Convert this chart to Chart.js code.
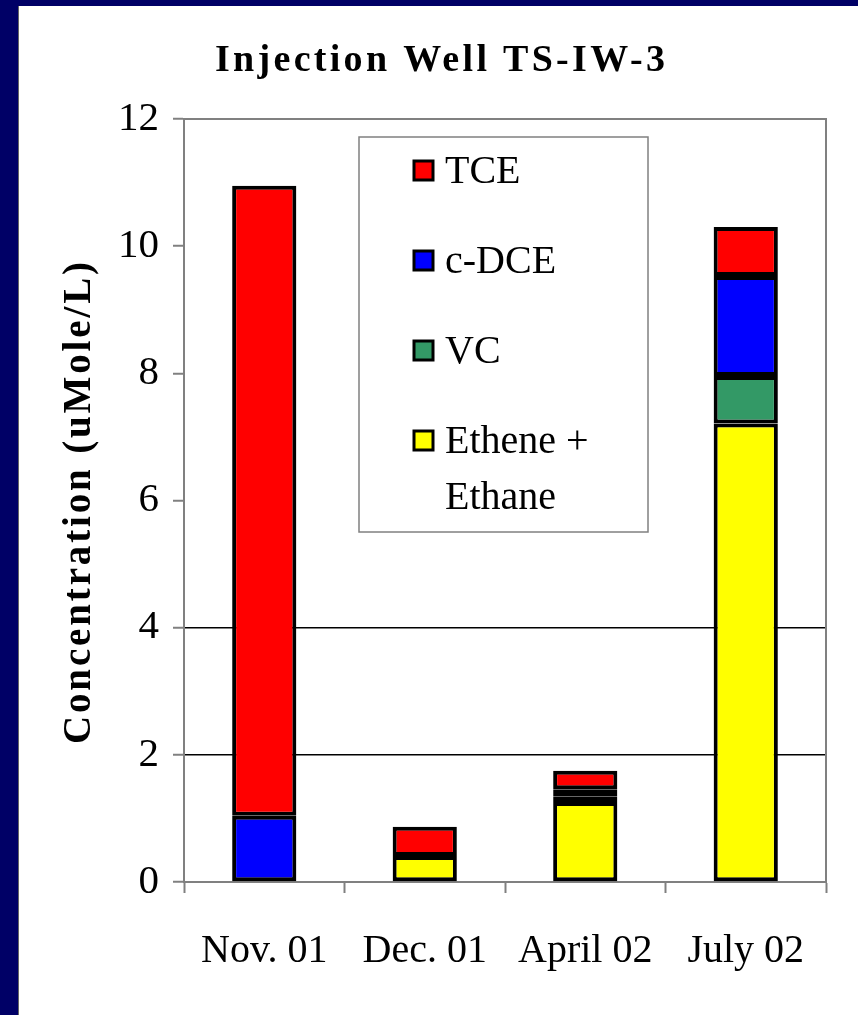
<!DOCTYPE html>
<html>
<head>
<meta charset="utf-8">
<script src="https://cdn.jsdelivr.net/npm/chart.js@4.4.1/dist/chart.umd.min.js"></script>
<style>
  html, body { margin: 0; padding: 0; background: #ffffff; overflow: hidden; }
  #wrap { width: 858px; height: 1015px; position: relative; }
  canvas { display: block; }
</style>
</head>
<body>
<div id="wrap"><canvas id="chart" width="858" height="1015"></canvas></div>
<script>
// Sampling dates
const categories = ['Nov. 01', 'Dec. 01', 'April 02', 'July 02'];

// Concentrations (uMole/L), stacked bottom to top
const etheneEthane = [null, 0.41, 1.26, 7.21];
const vc = [null, null, 0.09, 0.75];
const cDCE = [1.04, null, 0.11, 1.57];
const tce = [9.91, 0.46, 0.29, 0.77];

// Series names (legend lines)
const seriesNames = [['Ethene +', 'Ethane'], ['VC'], ['c-DCE'], ['TCE']];
const seriesColors = ['#FFFF00', '#339966', '#0000FF', '#FF0000'];

// Value axis
const yMin = 0, yMax = 12, yStep = 2;
const gridValues = [2, 4];

const chartTitle = 'Injection Well TS-IW-3';
const yTitle = 'Concentration (uMole/L)';

const SERIF = '"Liberation Serif", "Times New Roman", serif';
const NAVY = '#000066';
const AXIS_GRAY = '#808080';

// Draws text centred on (x, y), spread to targetWidth, with optional horizontal squeeze
function spacedText(ctx, text, x, y, targetWidth, squeeze) {
  const sx = squeeze || 1;
  ctx.letterSpacing = '0px';
  const w0 = ctx.measureText(text).width;
  const sp = (targetWidth / sx - w0) / (text.length - 1);
  ctx.save();
  ctx.translate(x, y);
  ctx.scale(sx, 1);
  if ('letterSpacing' in ctx) {
    ctx.letterSpacing = sp + 'px';
    ctx.textAlign = 'left';
    ctx.fillText(text, -targetWidth / sx / 2, 0);
  } else {
    ctx.textAlign = 'center';
    ctx.fillText(text, 0, 0);
  }
  ctx.restore();
}

const decorPlugin = {
  id: 'decor',
  beforeDraw(chart) {
    const ctx = chart.ctx;
    ctx.save();
    ctx.fillStyle = '#ffffff';
    ctx.fillRect(0, 0, chart.width, chart.height);
    // slide background band
    ctx.fillStyle = NAVY;
    ctx.fillRect(0, 0, chart.width, 6);
    ctx.fillRect(0, 0, 18, chart.height);
    ctx.fillStyle = '#666666';
    ctx.fillRect(18, 6, 1, chart.height - 6);
    ctx.restore();
  },
  afterDraw(chart) {
    const ctx = chart.ctx;
    const a = chart.chartArea;
    ctx.save();
    // plot frame, top and right sides
    ctx.strokeStyle = AXIS_GRAY;
    ctx.lineWidth = 2;
    ctx.beginPath();
    ctx.moveTo(a.left, a.top);
    ctx.lineTo(a.right, a.top);
    ctx.lineTo(a.right, a.bottom);
    ctx.stroke();

    // chart title
    ctx.fillStyle = '#000000';
    ctx.textBaseline = 'alphabetic';
    ctx.font = 'bold 38px ' + SERIF;
    spacedText(ctx, chartTitle, 440, 71, 450, 1);

    // value axis title
    ctx.save();
    ctx.translate(80, 503);
    ctx.rotate(-Math.PI / 2);
    ctx.font = 'bold 39px ' + SERIF;
    ctx.textBaseline = 'middle';
    spacedText(ctx, yTitle, 0, 0, 482, 1);
    ctx.restore();

    // legend box
    const bx = 359, by = 137, bw = 289, bh = 395;
    ctx.fillStyle = '#ffffff';
    ctx.fillRect(bx, by, bw, bh);
    ctx.strokeStyle = AXIS_GRAY;
    ctx.lineWidth = 1.5;
    ctx.strokeRect(bx, by, bw, bh);

    const ds = chart.data.datasets;
    const rowY = [170, 260, 350, 440];
    ctx.font = '40px ' + SERIF;
    ctx.textBaseline = 'middle';
    ctx.textAlign = 'left';
    for (let i = 0; i < ds.length; i++) {
      const d = ds[ds.length - 1 - i];
      const cy = rowY[i];
      ctx.fillStyle = d.backgroundColor;
      ctx.fillRect(414, cy - 9, 19, 19);
      ctx.strokeStyle = '#000000';
      ctx.lineWidth = 3;
      ctx.strokeRect(414, cy - 9, 19, 19);
      ctx.fillStyle = '#000000';
      const lines = seriesNames[ds.length - 1 - i];
      lines.forEach((t, k) => ctx.fillText(t, 445, cy + 2 + k * 56));
    }
    ctx.restore();
  }
};

const datasets = [etheneEthane, vc, cDCE, tce].map((vals, i) => ({
  label: seriesNames[i].join(' '),
  data: vals,
  backgroundColor: seriesColors[i],
  borderColor: '#000000',
  borderWidth: 4,
  borderSkipped: false,
  barPercentage: 0.4,
  categoryPercentage: 1.0
}));

new Chart(document.getElementById('chart'), {
  type: 'bar',
  data: { labels: categories, datasets },
  plugins: [decorPlugin],
  options: {
    responsive: false,
    animation: false,
    layout: { padding: { left: 0, top: 119, right: 32, bottom: 23 } },
    plugins: {
      legend: { display: false },
      title: { display: false },
      tooltip: { enabled: false }
    },
    scales: {
      x: {
        stacked: true,
        offset: true,
        grid: {
          offset: true,
          drawOnChartArea: false,
          drawTicks: true,
          tickLength: 11,
          tickColor: AXIS_GRAY,
          tickWidth: 2
        },
        border: { display: true, color: AXIS_GRAY, width: 2 },
        ticks: {
          color: '#000000',
          font: { family: SERIF, size: 40 },
          padding: 34,
          maxRotation: 0
        },
        afterFit(s) { s.height = 110; }
      },
      y: {
        stacked: true,
        min: yMin,
        max: yMax,
        grid: {
          color: c => (c.tick && gridValues.includes(c.tick.value)) ? '#000000' : 'rgba(0,0,0,0)',
          lineWidth: 1.5,
          drawTicks: true,
          tickLength: 11,
          tickColor: AXIS_GRAY,
          tickWidth: 2
        },
        border: { display: true, color: AXIS_GRAY, width: 2 },
        ticks: {
          stepSize: yStep,
          color: '#000000',
          font: { family: SERIF, size: 41 },
          padding: 14
        },
        afterFit(s) { s.width = 184; }
      }
    }
  }
});
</script>
</body>
</html>
